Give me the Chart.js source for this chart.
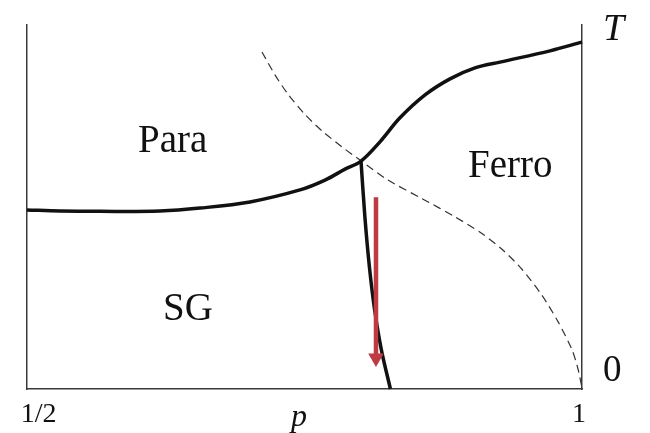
<!DOCTYPE html>
<html>
<head>
<meta charset="utf-8">
<script src="https://cdn.jsdelivr.net/npm/chart.js@4/dist/chart.umd.min.js"></script>
<style>
  html, body { margin: 0; padding: 0; background: #fff; }
  #wrap { width: 650px; height: 433px; }
</style>
</head>
<body>
<div id="wrap"><canvas id="phase" width="650" height="433"></canvas></div>
<script>
// --- Data (p on x, T on y, T scaled 0..1) ---
const paraP = [0.5, 0.5297, 0.5658, 0.6198, 0.6559, 0.7009, 0.7459, 0.7685, 0.7865, 0.8009, 0.8180, 0.8360, 0.8586, 0.8811, 0.9036, 0.9261, 0.9712, 1.0];
const paraT = [0.492, 0.489, 0.488, 0.489, 0.497, 0.514, 0.547, 0.574, 0.604, 0.626, 0.679, 0.745, 0.808, 0.852, 0.882, 0.898, 0.929, 0.953];

const sgP = [0.8009, 0.8044, 0.8085, 0.8132, 0.8193, 0.8274];
const sgT = [0.626, 0.473, 0.335, 0.217, 0.107, 0.0];

const nishP = [0.7117, 0.7234, 0.7351, 0.7505, 0.7658, 0.7838, 0.8009, 0.8252, 0.8559, 0.8856, 0.9099, 0.9279, 0.9459, 0.9640, 0.9784, 0.9910, 0.9964, 1.0];
const nishT = [0.926, 0.863, 0.810, 0.754, 0.709, 0.665, 0.627, 0.574, 0.523, 0.473, 0.427, 0.384, 0.329, 0.257, 0.185, 0.108, 0.055, 0.003];

const arrowP = [0.8144, 0.8144];
const arrowT = [0.527, 0.085];

const regionNames = ['Para', 'SG', 'Ferro'];
const regionP = [0.600, 0.6225, 0.8973];
const regionT = [0.651, 0.190, 0.582];

const pTicks = [0.5104, 0.745, 0.9973];
const pTickLabels = ['1/2', 'p', '1'];
const tTicks = [0.985, 0.05];
const tTickLabels = ['T', '0'];

const SERIF = '"Liberation Serif", "Times New Roman", serif';
const RED = '#bf3a43';
const AXIS = '#3a3a3a';

const pts = (xs, ys) => xs.map((x, i) => ({ x: x, y: ys[i] }));

// region names drawn at data coordinates
const regionText = {
    id: 'regionText',
    afterDatasetsDraw(chart) {
        const ctx = chart.ctx;
        const xs = chart.scales.x, ys = chart.scales.y;
        ctx.save();
        ctx.fillStyle = '#111';
        ctx.font = '39px ' + SERIF;
        ctx.textAlign = 'left';
        ctx.textBaseline = 'alphabetic';
        regionNames.forEach((name, i) => {
            ctx.fillText(name, xs.getPixelForValue(regionP[i]), ys.getPixelForValue(regionT[i]));
        });
        ctx.restore();
    }
};

// keep tick labels from pushing the plot area around
const noPad = s => { s.paddingTop = 0; s.paddingBottom = 0; s.paddingLeft = 0; s.paddingRight = 0; };

new Chart(document.getElementById('phase'), {
    type: 'scatter',
    data: {
        datasets: [
            {
                label: 'arrow',
                data: pts(arrowP, arrowT),
                showLine: true,
                borderColor: RED,
                borderWidth: 4.5,
                pointStyle: 'triangle',
                rotation: 180,
                pointRadius: c => c.dataIndex === 1 ? 9 : 0,
                pointBackgroundColor: RED,
                pointBorderWidth: 0,
                order: 0,
                clip: false
            },
            {
                label: 'para',
                data: pts(paraP, paraT),
                showLine: true,
                borderColor: '#111',
                borderWidth: 3.5,
                pointRadius: 0,
                tension: 0.35,
                order: 1,
                clip: false
            },
            {
                label: 'sg',
                data: pts(sgP, sgT),
                showLine: true,
                borderColor: '#111',
                borderWidth: 3.5,
                pointRadius: 0,
                tension: 0.3,
                order: 2,
                clip: false
            },
            {
                label: 'nishimori',
                data: pts(nishP, nishT),
                showLine: true,
                borderColor: '#333',
                borderWidth: 1.2,
                borderDash: [8, 5],
                pointRadius: 0,
                tension: 0.25,
                order: 3,
                clip: false
            }
        ]
    },
    options: {
        responsive: false,
        animation: false,
        layout: { padding: { top: 25, left: 0, right: 0, bottom: 0 } },
        plugins: { legend: { display: false }, tooltip: { enabled: false } },
        scales: {
            x: {
                type: 'linear',
                min: 0.5, max: 1,
                grid: { display: false },
                border: { display: true, color: AXIS, width: 1.5 },
                afterBuildTicks: s => { s.ticks = pTicks.map(v => ({ value: v })); },
                afterFit: s => { s.height = 44; noPad(s); },
                ticks: {
                    autoSkip: false,
                    maxRotation: 0,
                    padding: 1,
                    color: '#111',
                    callback: (v, i) => pTickLabels[i],
                    font: c => c.index === 1
                        ? { family: SERIF, size: 32, style: 'italic' }
                        : { family: SERIF, size: 28 }
                }
            },
            y: {
                type: 'linear',
                min: 0, max: 1,
                grid: { display: false },
                border: { display: true, color: AXIS, width: 1.5 },
                ticks: { display: false },
                afterFit: s => { s.width = 27; noPad(s); }
            },
            y2: {
                type: 'linear',
                position: 'right',
                min: 0, max: 1,
                grid: { display: false },
                border: { display: true, color: AXIS, width: 1.5 },
                afterBuildTicks: s => { s.ticks = tTicks.map(v => ({ value: v })); },
                afterFit: s => { s.width = 68; noPad(s); },
                ticks: {
                    autoSkip: false,
                    padding: 13,
                    color: '#111',
                    callback: (v, i) => tTickLabels[i],
                    font: c => c.index === 0
                        ? { family: SERIF, size: 38, style: 'italic' }
                        : { family: SERIF, size: 37 }
                }
            }
        }
    },
    plugins: [regionText]
});
</script>
</body>
</html>
